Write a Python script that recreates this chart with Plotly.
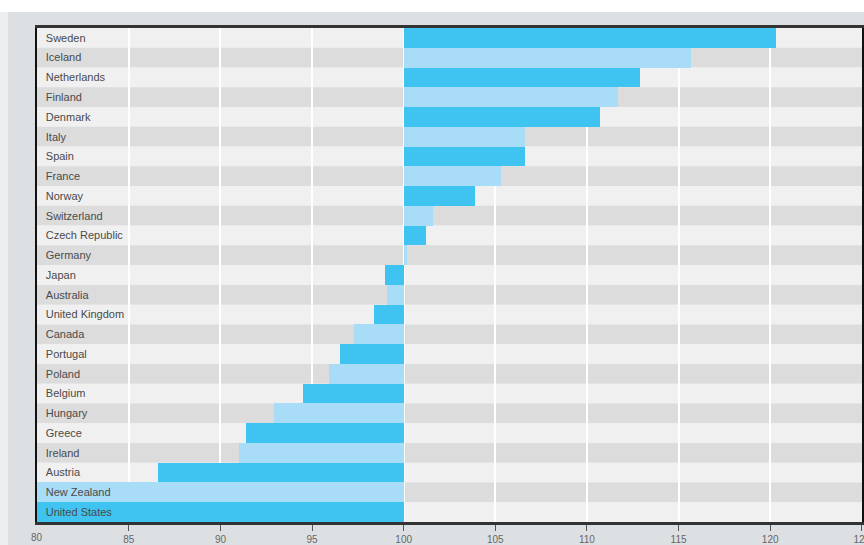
import plotly.graph_objects as go

# Index values per country (100 = reference level)
countries = [
    "Sweden", "Iceland", "Netherlands", "Finland", "Denmark", "Italy", "Spain",
    "France", "Norway", "Switzerland", "Czech Republic", "Germany", "Japan",
    "Australia", "United Kingdom", "Canada", "Portugal", "Poland", "Belgium",
    "Hungary", "Greece", "Ireland", "Austria", "New Zealand", "United States",
]
values = [
    120.3, 115.7, 112.9, 111.7, 110.7, 106.6, 106.6,
    105.3, 103.9, 101.6, 101.2, 100.2, 99.0,
    99.1, 98.4, 97.3, 96.5, 95.9, 94.5,
    92.9, 91.4, 91.0, 86.6, 79.6, 79.2,
]
x_ticks = [80, 85, 90, 95, 100, 105, 110, 115, 120, 125]
base_value = 100

dark_bar = "#3fc3f0"
light_bar = "#a9dcf6"
stripe_light = "#f0f0f0"
stripe_dark = "#dcdcdc"
tick_font = dict(family="Liberation Sans, Arial, sans-serif", size=10, color="#666666")

bar_colors = [dark_bar if i % 2 == 0 else light_bar for i in range(len(countries))]

fig = go.Figure()
fig.add_trace(go.Bar(
    y=countries,
    x=[v - base_value for v in values],
    base=base_value,
    orientation="h",
    marker=dict(color=bar_colors, line=dict(width=0)),
    hoverinfo="skip",
))

# Alternating row stripes behind the grid
shapes = []
for i, _ in enumerate(countries):
    shapes.append(dict(
        type="rect", layer="below", xref="paper", yref="y",
        x0=0, x1=1, y0=i - 0.5, y1=i + 0.5,
        fillcolor=stripe_light if i % 2 == 0 else stripe_dark,
        line=dict(width=0),
    ))

# Page surround: white top strip and a pale left edge
shapes.append(dict(
    type="rect", layer="below", xref="paper", yref="paper",
    ysizemode="pixel", yanchor=1, y0=16, y1=40, x0=-0.1, x1=1.1,
    fillcolor="#ffffff", line=dict(width=0),
))
shapes.append(dict(
    type="rect", layer="below", xref="paper", yref="paper",
    xsizemode="pixel", xanchor=0, x0=-40, x1=-29, y0=-0.2, y1=1.0 + 16 / 494,
    fillcolor="#eceef0", line=dict(width=0),
))

# The left-most axis label sits on the frame corner, so place it explicitly
first_tick = x_ticks[0]
annotations = [dict(
    x=first_tick, xref="x", y=0, yref="paper",
    text=str(first_tick), showarrow=False,
    xanchor="center", yanchor="top", yshift=-8,
    font=tick_font,
)]

fig.update_layout(
    width=864, height=545,
    margin=dict(l=37, r=2, t=28, b=23, autoexpand=False),
    paper_bgcolor="#dde0e3",
    plot_bgcolor=stripe_light,
    bargap=0,
    showlegend=False,
    shapes=shapes,
    annotations=annotations,
    font=dict(family="Liberation Sans, Arial, sans-serif", color="#555555"),
    xaxis=dict(
        range=[79.99, 125.01],
        tickvals=x_ticks[1:],
        ticktext=[str(t) for t in x_ticks[1:]],
        showgrid=True, gridcolor="#ffffff", gridwidth=2,
        zeroline=False,
        showline=True, linecolor="#333333", linewidth=3, mirror=True,
        ticks="outside", ticklen=6, tickcolor="#555555", tickwidth=1,
        tickfont=tick_font,
        ticklabeloverflow="allow",
        automargin=False,
        fixedrange=True,
    ),
    yaxis=dict(
        categoryorder="array", categoryarray=countries,
        autorange="reversed",
        showgrid=False, zeroline=False,
        showline=True, linecolor="#111111", linewidth=2, mirror=True,
        ticks="", ticklabelposition="inside", ticklabelstandoff=8,
        tickfont=dict(size=11, color="#4a4a4a"),
        automargin=False,
        fixedrange=True,
    ),
)

fig.write_html("out.html")
